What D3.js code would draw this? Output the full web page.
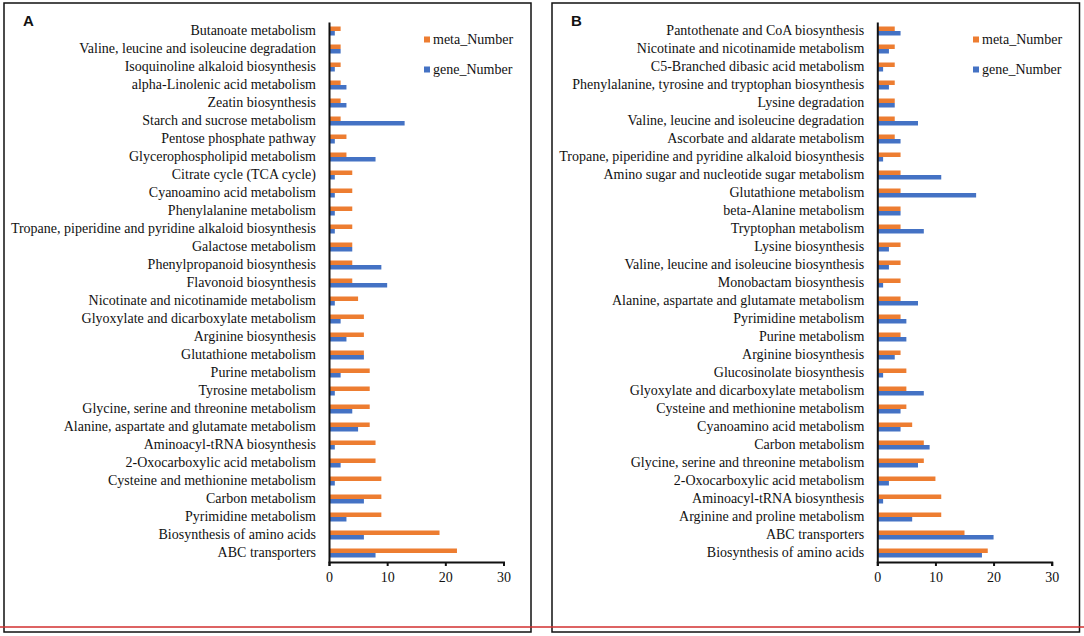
<!DOCTYPE html>
<html>
<head>
<meta charset="utf-8">
<script src="https://cdn.jsdelivr.net/npm/d3@7"></script>
<style>
  body { margin: 0; background: #fff; }
  svg { display: block; }
  .axis text { font-family: 'Liberation Serif', 'Times New Roman', serif; font-size: 14px; fill: #111; }
</style>
</head>
<body>
<div id="chart"></div>
<script>
// panel A
const catsA = ['Butanoate metabolism', 'Valine, leucine and isoleucine degradation', 'Isoquinoline alkaloid biosynthesis',
    'alpha-Linolenic acid metabolism', 'Zeatin biosynthesis', 'Starch and sucrose metabolism', 'Pentose phosphate pathway',
    'Glycerophospholipid metabolism', 'Citrate cycle (TCA cycle)', 'Cyanoamino acid metabolism', 'Phenylalanine metabolism',
    'Tropane, piperidine and pyridine alkaloid biosynthesis', 'Galactose metabolism', 'Phenylpropanoid biosynthesis',
    'Flavonoid biosynthesis', 'Nicotinate and nicotinamide metabolism', 'Glyoxylate and dicarboxylate metabolism',
    'Arginine biosynthesis', 'Glutathione metabolism', 'Purine metabolism', 'Tyrosine metabolism',
    'Glycine, serine and threonine metabolism', 'Alanine, aspartate and glutamate metabolism', 'Aminoacyl-tRNA biosynthesis',
    '2-Oxocarboxylic acid metabolism', 'Cysteine and methionine metabolism', 'Carbon metabolism', 'Pyrimidine metabolism',
    'Biosynthesis of amino acids', 'ABC transporters']
const metaA = [2, 2, 2, 2, 2, 2, 3, 3, 4, 4, 4, 4, 4, 4, 4, 5, 6, 6, 6, 7, 7, 7, 7, 8, 8, 9, 9, 9, 19, 22]
const geneA = [1, 2, 1, 3, 3, 13, 1, 8, 1, 1, 1, 1, 4, 9, 10, 1, 2, 3, 6, 2, 1, 4, 5, 1, 2, 1, 6, 3, 6, 8]

// panel B
const catsB = ['Pantothenate and CoA biosynthesis', 'Nicotinate and nicotinamide metabolism', 'C5-Branched dibasic acid metabolism',
    'Phenylalanine, tyrosine and tryptophan biosynthesis', 'Lysine degradation', 'Valine, leucine and isoleucine degradation',
    'Ascorbate and aldarate metabolism', 'Tropane, piperidine and pyridine alkaloid biosynthesis',
    'Amino sugar and nucleotide sugar metabolism', 'Glutathione metabolism', 'beta-Alanine metabolism', 'Tryptophan metabolism',
    'Lysine biosynthesis', 'Valine, leucine and isoleucine biosynthesis', 'Monobactam biosynthesis',
    'Alanine, aspartate and glutamate metabolism', 'Pyrimidine metabolism', 'Purine metabolism', 'Arginine biosynthesis',
    'Glucosinolate biosynthesis', 'Glyoxylate and dicarboxylate metabolism', 'Cysteine and methionine metabolism',
    'Cyanoamino acid metabolism', 'Carbon metabolism', 'Glycine, serine and threonine metabolism',
    '2-Oxocarboxylic acid metabolism', 'Aminoacyl-tRNA biosynthesis', 'Arginine and proline metabolism', 'ABC transporters',
    'Biosynthesis of amino acids']
const metaB = [3, 3, 3, 3, 3, 3, 3, 4, 4, 4, 4, 4, 4, 4, 4, 4, 4, 4, 4, 5, 5, 5, 6, 8, 8, 10, 11, 11, 15, 19]
const geneB = [4, 2, 1, 2, 3, 7, 4, 1, 11, 17, 4, 8, 2, 2, 1, 7, 5, 5, 3, 1, 8, 4, 4, 9, 7, 2, 1, 6, 20, 18]

const xTicks = [0, 10, 20, 30]
const seriesNames = ['meta_Number', 'gene_Number']
const seriesColors = ['#ED7D31', '#4472C4']

const W = 1084, H = 636

const svg = d3.select('#chart').append('svg')
    .attr('width', W)
    .attr('height', H)

const drawPanel = (p) => {
    const g = svg.append('g')

    // frame
    g.append('rect')
        .attr('x', p.frame[0]).attr('y', 3)
        .attr('width', p.frame[1] - p.frame[0]).attr('height', 629)
        .attr('fill', 'none').attr('stroke', '#111').attr('stroke-width', 1.5)

    g.append('text')
        .attr('x', p.frame[0] + 19).attr('y', 26)
        .attr('font-family', 'Liberation Sans, Arial, sans-serif')
        .attr('font-weight', 'bold').attr('font-size', 15)
        .attr('fill', '#111')
        .text(p.label)

    const x = d3.scaleLinear().domain([0, 30]).range(p.xRange)
    const y = d3.scaleBand().domain(p.cats).range([22, 562]).paddingInner(0.5).paddingOuter(0.25)
    const ySub = d3.scaleBand().domain(seriesNames).range([0, y.bandwidth()])

    const rows = p.cats.map((c, i) => ({ cat: c, values: [p.meta[i], p.gene[i]] }))

    const bars = g.append('g')
    bars.selectAll('g.row')
        .data(rows)
        .enter().append('g')
        .attr('class', 'row')
        .attr('transform', (d) => 'translate(0,' + y(d.cat) + ')')
        .selectAll('rect')
        .data((d) => d.values.map((v, k) => ({ key: seriesNames[k], v: v, k: k })))
        .enter().append('rect')
        .attr('x', x(0))
        .attr('y', (d) => ySub(d.key))
        .attr('width', (d) => x(d.v) - x(0))
        .attr('height', ySub.bandwidth())
        .attr('fill', (d) => seriesColors[d.k])

    g.append('g')
        .attr('class', 'axis')
        .attr('transform', 'translate(' + x(0) + ',0)')
        .call(d3.axisLeft(y).tickSize(0).tickPadding(13))
        .call((a) => a.select('.domain').attr('stroke', '#111').attr('stroke-width', 2))

    g.append('g')
        .attr('class', 'axis')
        .attr('transform', 'translate(0,' + 562 + ')')
        .call(d3.axisBottom(x).tickValues(xTicks).tickSize(4).tickPadding(6))
        .call((a) => a.select('.domain').attr('stroke', '#111').attr('stroke-width', 2))
        .call((a) => a.selectAll('.tick line').attr('stroke', '#111').attr('stroke-width', 2))

    // legend
    const leg = g.append('g').attr('transform', 'translate(' + p.legendX + ',0)')
    leg.selectAll('rect')
        .data(seriesNames)
        .enter().append('rect')
        .attr('x', 0)
        .attr('y', (d, i) => 36.5 + i * 30)
        .attr('width', 6).attr('height', 6)
        .attr('fill', (d, i) => seriesColors[i])
    leg.selectAll('text')
        .data(seriesNames)
        .enter().append('text')
        .attr('x', 9)
        .attr('y', (d, i) => 39.5 + i * 30)
        .attr('dy', '0.35em')
        .attr('font-family', 'Liberation Serif, Times New Roman, serif')
        .attr('font-size', 14)
        .attr('fill', '#111')
        .text((d) => d)
}

drawPanel({ label: 'A', frame: [4, 531], xRange: [329, 503.5], cats: catsA, meta: metaA, gene: geneA, legendX: 424 })
drawPanel({ label: 'B', frame: [552, 1079.5], xRange: [877.3, 1051.7], cats: catsB, meta: metaB, gene: geneB, legendX: 973 })

// red rule across the page
svg.append('line')
    .attr('x1', 0).attr('x2', W)
    .attr('y1', 627).attr('y2', 627)
    .attr('stroke', '#d22f2f').attr('stroke-width', 1.5)
</script>
</body>
</html>
